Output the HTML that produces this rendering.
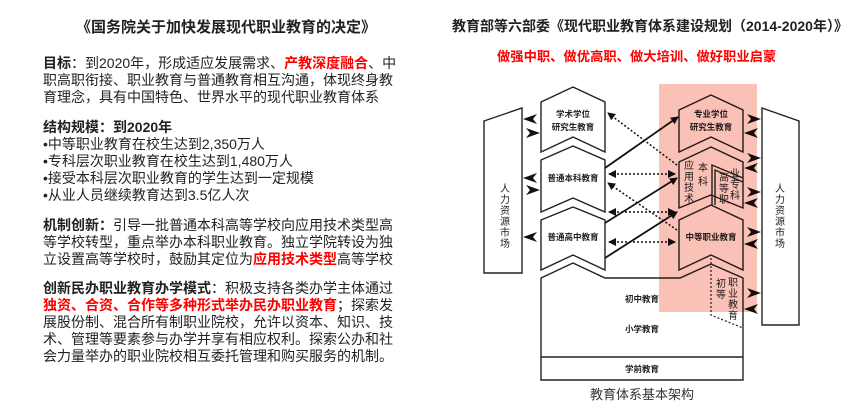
<!DOCTYPE html>
<html><head><meta charset="utf-8"><style>
html,body{margin:0;padding:0;background:#fff;width:866px;height:419px;overflow:hidden;position:relative}
.t{position:absolute;font-family:"Liberation Sans","Noto Sans CJK SC",sans-serif;color:#222;white-space:nowrap}
.l{left:43px;font-size:14px;line-height:17px}
b{font-weight:bold}
.r{color:#f00;font-weight:bold}
</style></head><body>
<div class="t" style="left:76px;top:16px;font-size:15px;font-weight:bold;">《国务院关于加快发展现代职业教育的决定》</div>
<div class="t l" style="top:55px"><b>目标</b>：到2020年，形成适应发展需求、<span class="r">产教深度融合</span>、中<br>职高职衔接、职业教育与普通教育相互沟通，体现终身教<br>育理念，具有中国特色、世界水平的现代职业教育体系</div>
<div class="t l" style="top:119px"><b>结构规模：到2020年</b><br>•中等职业教育在校生达到2,350万人<br>•专科层次职业教育在校生达到1,480万人<br>•接受本科层次职业教育的学生达到一定规模<br>•从业人员继续教育达到3.5亿人次</div>
<div class="t l" style="top:217px"><b>机制创新：</b>引导一批普通本科高等学校向应用技术类型高<br>等学校转型，重点举办本科职业教育。独立学院转设为独<br>立设置高等学校时，鼓励其定位为<span class="r">应用技术类型</span>高等学校</div>
<div class="t l" style="top:280px"><b>创新民办职业教育办学模式</b>：积极支持各类办学主体通过<br><span class="r">独资、合资、合作等多种形式举办民办职业教育</span>；探索发<br>展股份制、混合所有制职业院校，允许以资本、知识、技<br>术、管理等要素参与办学并享有相应权利。探索公办和社<br>会力量举办的职业院校相互委托管理和购买服务的机制。</div>
<div class="t" style="left:452px;top:16px;font-size:14px;font-weight:bold;">教育部等六部委《现代职业教育体系建设规划（2014-2020年）》</div>
<div class="t" style="left:497px;top:46px;font-size:13.3px;font-weight:bold;color:#f00">做强中职、做优高职、做大培训、做好职业启蒙</div>
<svg width="866" height="419" style="position:absolute;left:0;top:0" font-family="Liberation Sans,Noto Sans CJK SC,sans-serif">
<defs>
<marker id="a" markerWidth="8" markerHeight="8" refX="7" refY="4" orient="auto" markerUnits="userSpaceOnUse"><path d="M0,0 L8,4 L0,8 z" fill="#111"/></marker>
<marker id="b" markerWidth="8" markerHeight="8" refX="1" refY="4" orient="auto" markerUnits="userSpaceOnUse"><path d="M8,0 L0,4 L8,8 z" fill="#111"/></marker>
</defs>
<g fill="#fff" stroke="#222" stroke-width="1.4">
<polygon points="484,121 522,108 522,273 484,273"/>
<polygon points="762,108 799,121 799,325 762,325"/>
<polygon points="541,102 573,87 605,102 605,152 573,137 541,152"/>
<polygon points="541,160 573,146 605,160 605,212 573,198 541,212"/>
<polygon points="541,220 573,207 605,220 605,270 573,255 541,270"/>
<polygon points="541,278 573,263 605,278 680,278 711,264 743,278 743,380 541,380"/>
<line x1="541" y1="357" x2="743" y2="357"/>
<polygon points="679,110 711,95 743,110 743,152 711,137 679,152"/>
<polygon points="679,162 711,147 743,162 743,208 711,195 679,208"/>
<polyline fill="none" points="712,205 712,165 743,178"/>
<polyline fill="none" points="715,205 715,170 743,182"/>
<polygon points="679,220 711,205 743,220 743,270 711,255 679,270"/>
</g>
<polyline fill="none" stroke="#222" stroke-width="1.2" stroke-dasharray="2,2" points="711,258 711,315 743,328"/>
<g stroke="#111" stroke-width="1.8" fill="none">
<line x1="605" y1="168" x2="678" y2="117" marker-end="url(#a)"/>
<line x1="605" y1="223" x2="677" y2="178" marker-end="url(#a)"/>
<line x1="605" y1="258" x2="677" y2="212" marker-end="url(#a)"/>
</g>
<g stroke="#111" stroke-width="1.5" fill="none" stroke-dasharray="2,2">
<line x1="677" y1="165" x2="608" y2="113" marker-end="url(#a)"/>
<line x1="609" y1="174" x2="675" y2="174" marker-end="url(#a)" marker-start="url(#b)"/>
<line x1="609" y1="212" x2="675" y2="212" marker-end="url(#a)" marker-start="url(#b)"/>
<line x1="677" y1="230" x2="608" y2="183" marker-end="url(#a)"/>
<line x1="609" y1="242" x2="675" y2="242" marker-end="url(#a)" marker-start="url(#b)"/>
</g>
<g fill="#111">
<polygon points="523,119 537,114 533,119 537,124"/>
<polygon points="540,133 526,128 530,133 526,138"/>
<polygon points="523,178 537,173 533,178 537,183"/>
<polygon points="540,190 526,185 530,190 526,195"/>
<polygon points="523,237 537,232 533,237 537,242"/>
<polygon points="761,119 747,114 751,119 747,124"/>
<polygon points="744,133 758,128 754,133 758,138"/>
<polygon points="761,158 747,153 751,158 747,163"/>
<polygon points="744,168 758,163 754,168 758,173"/>
<polygon points="761,192 747,187 751,192 747,197"/>
<polygon points="744,203 758,198 754,203 758,208"/>
<polygon points="761,232 747,227 751,232 747,237"/>
<polygon points="744,244 758,239 754,244 758,249"/>
<polygon points="761,293 747,288 751,293 747,298"/>
<polygon points="744,309 758,304 754,309 758,314"/>
</g>
<g font-size="8.5" fill="#222" text-anchor="middle" font-weight="bold">
<text x="573" y="117">学术学位</text><text x="573" y="130">研究生教育</text>
<text x="573" y="181">普通本科教育</text>
<text x="573" y="240">普通高中教育</text>
<text x="711" y="117">专业学位</text><text x="711" y="130">研究生教育</text>
<text x="711" y="240">中等职业教育</text>
<text x="642" y="302">初中教育</text>
<text x="642" y="332">小学教育</text>
<text x="642" y="372">学前教育</text>
</g>
<g font-size="10" fill="#222" text-anchor="middle">
<text x="505" y="192">人</text><text x="505" y="203">力</text><text x="505" y="214">资</text><text x="505" y="225">源</text><text x="505" y="236">市</text><text x="505" y="247">场</text>
<text x="780" y="192">人</text><text x="780" y="203">力</text><text x="780" y="214">资</text><text x="780" y="225">源</text><text x="780" y="236">市</text><text x="780" y="247">场</text>
<text x="689" y="169">应</text><text x="689" y="180">用</text><text x="689" y="191">技</text><text x="689" y="202">术</text>
<text x="703" y="171">本</text><text x="703" y="185">科</text>
<text x="724" y="181">高</text><text x="724" y="192">等</text><text x="724" y="203">职</text>
<text x="735" y="177">业</text><text x="735" y="188">专</text><text x="735" y="199">科</text>
<text x="721" y="287">初</text><text x="721" y="298">等</text>
<text x="733" y="286">职</text><text x="733" y="297">业</text><text x="733" y="308">教</text><text x="733" y="319">育</text>
</g>
<text x="642" y="399" font-size="13" fill="#333" text-anchor="middle">教育体系基本架构</text>
<rect x="659" y="84" width="98" height="228" fill="#f8a090" opacity="0.65" style="mix-blend-mode:multiply"/>
</svg>
</body></html>
